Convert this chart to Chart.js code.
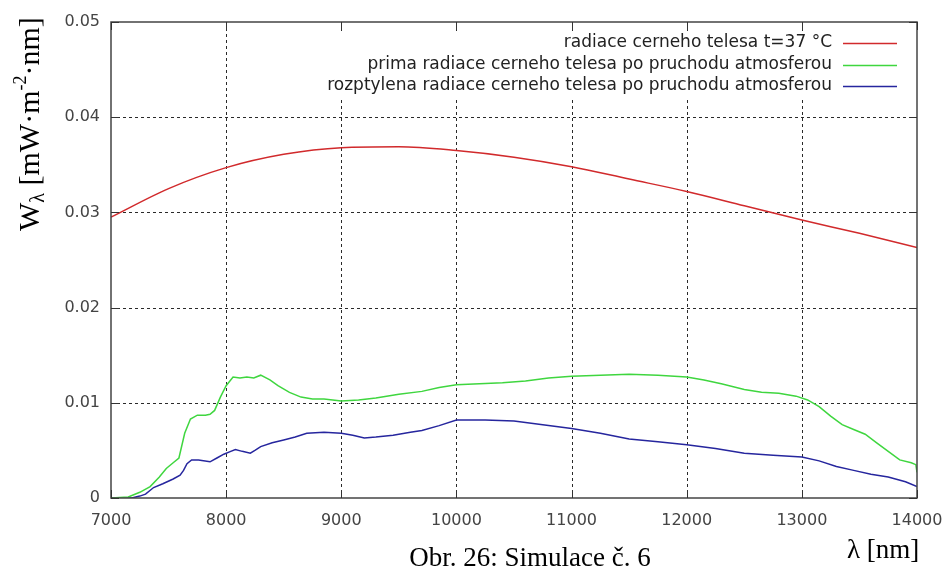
<!DOCTYPE html>
<html>
<head>
<meta charset="utf-8">
<script src="https://cdn.jsdelivr.net/npm/chart.js@4"></script>
<style>
  body { margin: 0; background: #fff; }
  canvas { display: block; }
</style>
</head>
<body>
<canvas id="spektrum" width="947" height="574"></canvas>
<script>
// hodnoty
const xTicks = [7000, 8000, 9000, 10000, 11000, 12000, 13000, 14000];
const yTicks = [0, 0.01, 0.02, 0.03, 0.04, 0.05];

const seriesLabels = [
    'radiace cerneho telesa t=37 °C',
    'prima radiace cerneho telesa po pruchodu atmosferou',
    'rozptylena radiace cerneho telesa po pruchodu atmosferou'
];
const seriesColors = ['#d12a2c', '#3fd63f', '#26269e'];

const redX = [7000, 7500, 8000, 8500, 9000, 9500, 10000, 10500, 11000, 11500, 12000, 12500, 13000, 13500, 14000];
const redY = [0.0295, 0.0325, 0.0347, 0.0361, 0.0368, 0.0369, 0.0365, 0.0358, 0.0348, 0.0335, 0.0322, 0.0307, 0.0292, 0.0278, 0.0263];

const greenX = [7000, 7150, 7250, 7340, 7420, 7480, 7540, 7590, 7640, 7690, 7750, 7820, 7860, 7900, 7950, 8000, 8060, 8120, 8180, 8240, 8300, 8380, 8450, 8550, 8650, 8750, 8850, 9000, 9150, 9300, 9500, 9700, 9850, 10000, 10200, 10400, 10600, 10800, 11000, 11250, 11500, 11750, 12000, 12150, 12300, 12500, 12650, 12800, 12950, 13050, 13150, 13250, 13350, 13450, 13550, 13650, 13750, 13850, 13950, 13990, 14000];
const greenY = [0, 0.0001, 0.0006, 0.0012, 0.0022, 0.0031, 0.0037, 0.0042, 0.0068, 0.0083, 0.0087, 0.0087, 0.0088, 0.0092, 0.0106, 0.0118, 0.0127, 0.0126, 0.0127, 0.0126, 0.0129, 0.0124, 0.0118, 0.0111, 0.0106, 0.0104, 0.0104, 0.0102, 0.0103, 0.0105, 0.0109, 0.0112, 0.0116, 0.0119, 0.0120, 0.0121, 0.0123, 0.0126, 0.0128, 0.0129, 0.0130, 0.0129, 0.0127, 0.0124, 0.0120, 0.0114, 0.0111, 0.0110, 0.0107, 0.0103, 0.0096, 0.0086, 0.0077, 0.0072, 0.0067, 0.0058, 0.0049, 0.0040, 0.0037, 0.0035, 0.0027];

const blueX = [7000, 7180, 7250, 7300, 7370, 7450, 7540, 7600, 7630, 7660, 7700, 7760, 7860, 7920, 7980, 8040, 8080, 8140, 8210, 8250, 8300, 8400, 8500, 8600, 8700, 8850, 9000, 9100, 9200, 9300, 9450, 9600, 9700, 9850, 10000, 10250, 10500, 10750, 11000, 11250, 11500, 11750, 12000, 12250, 12500, 12750, 13000, 13150, 13300, 13450, 13600, 13750, 13900, 14000];
const blueY = [0, 0, 0.0002, 0.0004, 0.0011, 0.0015, 0.0020, 0.0024, 0.0029, 0.0036, 0.0040, 0.0040, 0.0038, 0.0042, 0.0046, 0.0049, 0.0051, 0.0049, 0.0047, 0.0050, 0.0054, 0.0058, 0.0061, 0.0064, 0.0068, 0.0069, 0.0068, 0.0066, 0.0063, 0.0064, 0.0066, 0.0069, 0.0071, 0.0076, 0.0082, 0.0082, 0.0081, 0.0077, 0.0073, 0.0068, 0.0062, 0.0059, 0.0056, 0.0052, 0.0047, 0.0045, 0.0043, 0.0039, 0.0033, 0.0029, 0.0025, 0.0022, 0.0017, 0.0012];

const toPoints = (xs, ys) => xs.map((x, i) => ({ x: x, y: ys[i] }));

const tickFont = { family: 'DejaVu Sans', size: 16 };

// mrizka, ramecek, legenda a popisky os
const framePlugin = {
    id: 'frame',
    beforeDatasetsDraw(chart) {
        const ctx = chart.ctx, a = chart.chartArea;
        const sx = chart.scales.x, sy = chart.scales.y;
        ctx.save();
        ctx.strokeStyle = '#2a2a2a';
        ctx.lineWidth = 1;
        ctx.setLineDash([3, 3]);
        xTicks.slice(1, -1).forEach(v => {
            const px = Math.round(sx.getPixelForValue(v)) + 0.5;
            ctx.beginPath(); ctx.moveTo(px, a.top); ctx.lineTo(px, a.bottom); ctx.stroke();
        });
        yTicks.slice(1, -1).forEach(v => {
            const py = Math.round(sy.getPixelForValue(v)) + 0.5;
            ctx.beginPath(); ctx.moveTo(a.left, py); ctx.lineTo(a.right, py); ctx.stroke();
        });
        ctx.restore();
    },
    afterDatasetsDraw(chart) {
        const ctx = chart.ctx, a = chart.chartArea;
        const sx = chart.scales.x, sy = chart.scales.y;
        ctx.save();
        // legenda
        ctx.fillStyle = '#fff';
        ctx.fillRect(318, 31, a.right - 5 - 318, 68);
        ctx.font = '17px "DejaVu Sans"';
        ctx.textAlign = 'right';
        ctx.textBaseline = 'middle';
        chart.data.datasets.forEach((ds, i) => {
            const y = 43 + i * 21.5;
            ctx.fillStyle = '#222';
            ctx.fillText(ds.label, 832, y);
            ctx.strokeStyle = ds.borderColor;
            ctx.lineWidth = 1.5;
            ctx.beginPath(); ctx.moveTo(843, Math.round(y) + 0.5); ctx.lineTo(897, Math.round(y) + 0.5); ctx.stroke();
        });
        // ramecek
        ctx.strokeStyle = '#444';
        ctx.lineWidth = 1.5;
        ctx.strokeRect(a.left, a.top, a.right - a.left, a.bottom - a.top);
        // znacky dovnitr
        ctx.lineWidth = 1;
        ctx.strokeStyle = '#333';
        xTicks.forEach(v => {
            const px = Math.round(sx.getPixelForValue(v)) + 0.5;
            ctx.beginPath();
            ctx.moveTo(px, a.bottom); ctx.lineTo(px, a.bottom - 8);
            ctx.moveTo(px, a.top); ctx.lineTo(px, a.top + 8);
            ctx.stroke();
        });
        yTicks.forEach(v => {
            const py = Math.round(sy.getPixelForValue(v)) + 0.5;
            ctx.beginPath();
            ctx.moveTo(a.left, py); ctx.lineTo(a.left + 8, py);
            ctx.moveTo(a.right, py); ctx.lineTo(a.right - 8, py);
            ctx.stroke();
        });
        ctx.restore();
    },
    afterDraw(chart) {
        const ctx = chart.ctx;
        ctx.save();
        ctx.fillStyle = '#000';
        ctx.textBaseline = 'alphabetic';
        // popisek osy y (otoceny)
        ctx.translate(39, 231);
        ctx.rotate(-Math.PI / 2);
        ctx.textAlign = 'left';
        let x = 0;
        const part = (txt, size, dy) => {
            ctx.font = size + 'px "Liberation Serif"';
            ctx.fillText(txt, x, dy);
            x += ctx.measureText(txt).width;
        };
        part('W', 30, 0);
        part('λ', 20, 5);
        part(' [mW·m', 30, 0);
        part('-2', 18, -13);
        part('·nm]', 30, 0);
        ctx.restore();

        ctx.save();
        ctx.fillStyle = '#000';
        ctx.font = '27px "Liberation Serif"';
        ctx.textAlign = 'center';
        ctx.fillText('Obr. 26: Simulace č. 6', 530, 566);
        ctx.textAlign = 'left';
        ctx.fillText('λ [nm]', 847, 558);
        ctx.restore();
    }
};

new Chart(document.getElementById('spektrum'), {
    type: 'line',
    data: {
        datasets: [
            { label: seriesLabels[0], data: toPoints(redX, redY), borderColor: seriesColors[0], cubicInterpolationMode: 'monotone' },
            { label: seriesLabels[1], data: toPoints(greenX, greenY), borderColor: seriesColors[1] },
            { label: seriesLabels[2], data: toPoints(blueX, blueY), borderColor: seriesColors[2] }
        ]
    },
    options: {
        responsive: false,
        animation: false,
        devicePixelRatio: 1,
        layout: { padding: { left: 0, right: 30, top: 22, bottom: 0 } },
        elements: { point: { radius: 0 }, line: { borderWidth: 1.5, tension: 0 } },
        plugins: { legend: { display: false }, tooltip: { enabled: false } },
        scales: {
            x: {
                type: 'linear', min: 7000, max: 14000,
                afterBuildTicks: s => { s.ticks = xTicks.map(v => ({ value: v })); },
                afterFit: s => { s.height = 76; s.paddingLeft = 0; s.paddingRight = 0; },
                grid: { display: false, drawTicks: false },
                border: { display: false },
                ticks: { font: tickFont, color: '#444', padding: 13, maxRotation: 0, callback: v => String(v) }
            },
            y: {
                type: 'linear', min: 0, max: 0.05,
                afterBuildTicks: s => { s.ticks = yTicks.map(v => ({ value: v })); },
                afterFit: s => { s.width = 111; s.paddingTop = 0; s.paddingBottom = 0; },
                grid: { display: false, drawTicks: false },
                border: { display: false },
                ticks: { font: tickFont, color: '#444', padding: 11, callback: v => v === 0 ? '0' : v.toFixed(2) }
            }
        }
    },
    plugins: [framePlugin]
});
</script>
</body>
</html>
